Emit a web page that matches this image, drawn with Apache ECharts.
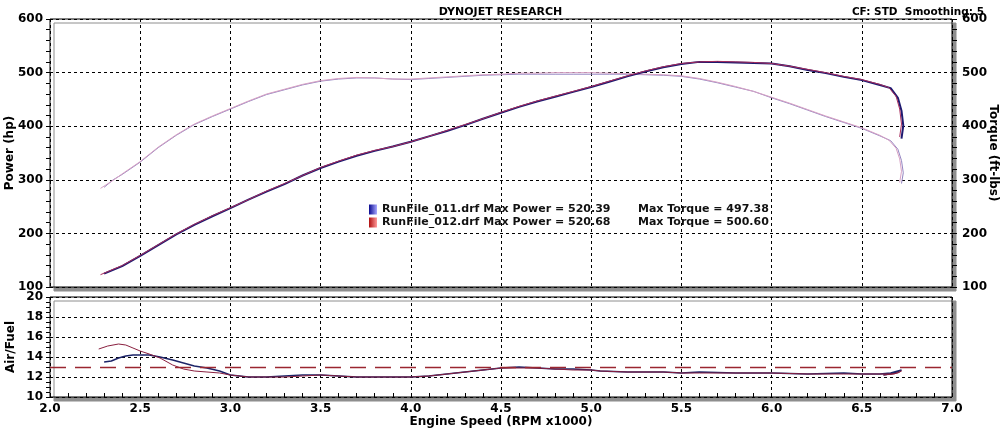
<!DOCTYPE html>
<html>
<head>
<meta charset="UTF-8">
<title>Dynojet</title>
<script src="https://cdnjs.cloudflare.com/ajax/libs/echarts/6.0.0/echarts.min.js"></script>
<style>
    html, body { margin: 0; padding: 0; background: #fff; }
    #chart { width: 1001px; height: 429px; }
</style>
</head>
<body>
<div id="chart"></div>
<script>
    // run names and summary values shown in the legend
    const runNames = ['RunFile_011.drf', 'RunFile_012.drf'];
    const maxPower = ['520.39', '520.68'];
    const maxTorque = ['497.38', '500.60'];

    // RunFile_011 (blue)
    const rpm011 = [2.30, 2.35, 2.40, 2.50, 2.60, 2.70, 2.80, 2.90, 3.00, 3.10, 3.20, 3.30, 3.40, 3.50, 3.60, 3.70, 3.80, 3.90, 4.00, 4.10, 4.20, 4.30, 4.40, 4.50, 4.60, 4.70, 4.80, 4.90, 5.00, 5.10, 5.20, 5.30, 5.40, 5.50, 5.60, 5.70, 5.80, 5.90, 6.00, 6.10, 6.20, 6.30, 6.40, 6.50, 6.60, 6.66, 6.70, 6.72, 6.73, 6.72];
    const power011 = [125, 132, 139, 158, 178, 198, 216, 232, 247, 263, 278, 292, 308, 322, 334, 345, 354, 362, 371, 381, 391, 402, 414, 425, 436, 446, 455, 464, 473, 483, 493, 502, 510, 516, 520, 520, 519, 518, 517, 512, 505, 499, 492, 486, 477, 471, 453, 429, 401, 377];
    const torque011 = [286, 300, 310, 333, 360, 383, 403, 418, 432, 446, 459, 468, 477, 484, 488, 490, 490, 488, 487, 489, 491, 493, 495, 496, 497, 497, 497, 497, 497, 497, 497, 496, 495, 493, 488, 481, 473, 465, 453, 442, 430, 418, 407, 396, 382, 373, 357, 336, 313, 293];

    // RunFile_012 (red)
    const rpm012 = [2.28, 2.35, 2.40, 2.50, 2.60, 2.70, 2.80, 2.90, 3.00, 3.10, 3.20, 3.30, 3.40, 3.50, 3.60, 3.70, 3.80, 3.90, 4.00, 4.10, 4.20, 4.30, 4.40, 4.50, 4.60, 4.70, 4.80, 4.90, 5.00, 5.10, 5.20, 5.30, 5.40, 5.50, 5.60, 5.70, 5.80, 5.90, 6.00, 6.10, 6.20, 6.30, 6.40, 6.50, 6.60, 6.65, 6.69, 6.71, 6.72, 6.71];
    const power012 = [123, 133, 140, 159, 179, 199, 217, 233, 248, 263, 279, 293, 308, 323, 335, 346, 355, 362, 371, 381, 392, 403, 414, 426, 437, 447, 456, 465, 474, 484, 494, 503, 511, 517, 520, 521, 520, 519, 517, 512, 506, 500, 493, 487, 478, 472, 456, 432, 404, 380];
    const torque012 = [284, 299, 311, 334, 361, 384, 404, 419, 433, 447, 460, 469, 478, 485, 489, 491, 490, 488, 488, 490, 492, 494, 496, 497, 499, 499, 500, 500, 500, 499, 498, 497, 496, 494, 489, 482, 474, 465, 454, 443, 431, 419, 408, 397, 383, 374, 359, 339, 316, 295];

    // air / fuel
    const afRpm011 = [2.30, 2.34, 2.38, 2.42, 2.46, 2.50, 2.55, 2.61, 2.68, 2.74, 2.80, 2.87, 2.94, 3.00, 3.10, 3.20, 3.30, 3.40, 3.50, 3.60, 3.70, 3.80, 3.90, 4.00, 4.10, 4.20, 4.30, 4.40, 4.50, 4.60, 4.70, 4.80, 4.90, 5.00, 5.05, 5.20, 5.40, 5.50, 5.60, 5.80, 6.00, 6.20, 6.40, 6.50, 6.60, 6.66, 6.70, 6.72, 6.68, 6.62];
    const af011 = [13.5, 13.6, 13.9, 14.1, 14.2, 14.2, 14.2, 14.0, 13.7, 13.4, 13.1, 12.9, 12.6, 12.2, 12.0, 12.0, 12.1, 12.2, 12.2, 12.1, 12.0, 12.0, 12.0, 12.0, 12.1, 12.3, 12.5, 12.7, 12.9, 13.0, 12.9, 12.8, 12.8, 12.7, 12.6, 12.5, 12.5, 12.4, 12.5, 12.4, 12.4, 12.3, 12.4, 12.3, 12.3, 12.4, 12.6, 12.7, 12.4, 12.2];
    const afRpm012 = [2.27, 2.32, 2.38, 2.42, 2.46, 2.50, 2.55, 2.61, 2.68, 2.74, 2.80, 2.87, 2.94, 3.00, 3.10, 3.20, 3.30, 3.40, 3.50, 3.60, 3.70, 3.80, 3.90, 4.00, 4.10, 4.20, 4.30, 4.40, 4.50, 4.60, 4.70, 4.80, 4.90, 5.00, 5.05, 5.20, 5.40, 5.50, 5.60, 5.80, 6.00, 6.20, 6.40, 6.50, 6.60, 6.66, 6.70, 6.72, 6.68, 6.62];
    const af012 = [14.8, 15.1, 15.3, 15.2, 14.9, 14.6, 14.3, 13.9, 13.2, 12.8, 12.6, 12.5, 12.4, 12.2, 12.0, 12.0, 12.0, 12.1, 12.2, 12.1, 12.0, 12.0, 12.0, 12.0, 12.1, 12.3, 12.5, 12.7, 12.9, 12.9, 12.9, 12.8, 12.7, 12.7, 12.6, 12.5, 12.5, 12.4, 12.4, 12.4, 12.4, 12.3, 12.3, 12.3, 12.3, 12.3, 12.4, 12.6, 12.3, 12.2];
    const afTarget = 13.0;

    const FONT = 'DejaVu Sans';
    const zip = (xs, ys) => xs.map((x, i) => [x, ys[i]]);

    const labelStyle = { color: '#000', fontFamily: FONT, fontWeight: 'bold', fontSize: 12 };
    const gridSplit = { show: true, lineStyle: { color: '#000', type: [3, 3], width: 1 } };
    const frame = {
        show: true, backgroundColor: '#fff', borderColor: '#000', borderWidth: 1,
        shadowColor: '#8e8e8e', shadowBlur: 0.5, shadowOffsetX: 4, shadowOffsetY: 4,
        outerBoundsMode: 'none', containLabel: false
    };

    const chart = echarts.init(document.getElementById('chart'), null, { renderer: 'canvas' });

    chart.setOption({
        animation: false,
        backgroundColor: '#fff',
        title: [
            { text: 'DYNOJET RESEARCH', left: 'center', top: 2,
              textStyle: { fontFamily: FONT, fontWeight: 'bold', fontSize: 11, color: '#000' } },
            { text: 'CF: STD  Smoothing: 5', right: 12, top: 2,
              textStyle: { fontFamily: FONT, fontWeight: 'bold', fontSize: 10.5, color: '#000' } }
        ],
        legend: {
            orient: 'vertical', left: 364, top: 199, itemGap: 2,
            itemWidth: 8, itemHeight: 10, icon: 'rect',
            data: [
                { name: runNames[0], itemStyle: { color: { type: 'linear', x: 0, y: 0, x2: 1, y2: 0,
                    colorStops: [{ offset: 0, color: '#0a0a90' }, { offset: 1, color: '#a8a8ff' }] } } },
                { name: runNames[1], itemStyle: { color: { type: 'linear', x: 0, y: 0, x2: 1, y2: 0,
                    colorStops: [{ offset: 0, color: '#b01010' }, { offset: 1, color: '#ff9a9a' }] } } }
            ],
            formatter: name => {
                const i = runNames.indexOf(name);
                return '{a|' + name + ' Max Power = ' + maxPower[i] + '}{b|Max Torque = ' + maxTorque[i] + '}';
            },
            textStyle: {
                rich: {
                    a: { fontFamily: FONT, fontWeight: 'bold', fontSize: 11, color: '#111', width: 256 },
                    b: { fontFamily: FONT, fontWeight: 'bold', fontSize: 11, color: '#111' }
                }
            }
        },
        grid: [
            Object.assign({ left: 50, right: 49, top: 19, height: 268 }, frame),
            Object.assign({ left: 50, right: 49, top: 297, height: 100 }, frame)
        ],
        xAxis: [
            { gridIndex: 0, type: 'value', min: 2, max: 7, interval: 0.5,
              axisLine: { show: false }, axisTick: { show: false }, axisLabel: { show: false },
              splitLine: gridSplit },
            { gridIndex: 1, type: 'value', min: 2, max: 7, interval: 0.5,
              name: 'Engine Speed (RPM x1000)', nameLocation: 'middle', nameGap: 19,
              nameMoveOverlap: false, nameTextStyle: labelStyle,
              axisLine: { show: false },
              axisTick: { show: true, inside: true, length: 4, lineStyle: { color: '#000' } },
              minorTick: { show: true, splitNumber: 5, length: 4, lineStyle: { color: '#000' } },
              axisLabel: Object.assign({ margin: 6, formatter: v => v.toFixed(1) }, labelStyle),
              splitLine: gridSplit }
        ],
        yAxis: [
            { gridIndex: 0, type: 'value', min: 100, max: 600, interval: 100, position: 'left',
              name: 'Power (hp)', nameLocation: 'middle', nameGap: 34, nameMoveOverlap: false,
              nameTextStyle: labelStyle,
              axisLine: { show: false },
              axisTick: { show: true, length: 4, lineStyle: { color: '#000' } },
              minorTick: { show: true, splitNumber: 5, length: 4, lineStyle: { color: '#000' } },
              axisLabel: Object.assign({ margin: 7 }, labelStyle),
              splitLine: gridSplit },
            { gridIndex: 0, type: 'value', min: 100, max: 600, interval: 100, position: 'right',
              name: 'Torque (ft-lbs)', nameLocation: 'middle', nameGap: 35, nameRotate: -90,
              nameMoveOverlap: false, nameTextStyle: labelStyle,
              axisLine: { show: false },
              axisTick: { show: true, length: 5, lineStyle: { color: '#000' } },
              minorTick: { show: true, splitNumber: 5, length: 5, lineStyle: { color: '#000' } },
              axisLabel: Object.assign({ margin: 10 }, labelStyle),
              splitLine: { show: false } },
            { gridIndex: 1, type: 'value', min: 10, max: 20, interval: 2, position: 'left',
              name: 'Air/Fuel', nameLocation: 'middle', nameGap: 33, nameMoveOverlap: false,
              nameTextStyle: labelStyle,
              axisLine: { show: false },
              axisTick: { show: true, length: 4, lineStyle: { color: '#000' } },
              minorTick: { show: true, splitNumber: 4, length: 4, lineStyle: { color: '#000' } },
              axisLabel: Object.assign({ margin: 7 }, labelStyle),
              splitLine: gridSplit }
        ],
        series: [
            { name: runNames[0], type: 'line', xAxisIndex: 0, yAxisIndex: 1, data: zip(rpm011, torque011),
              showSymbol: false, lineStyle: { color: '#9486c2', width: 1 }, itemStyle: { color: '#9486c2' } },
            { name: runNames[1], type: 'line', xAxisIndex: 0, yAxisIndex: 1, data: zip(rpm012, torque012),
              showSymbol: false, lineStyle: { color: '#d8a2c4', width: 1 }, itemStyle: { color: '#d8a2c4' } },
            { name: runNames[0], type: 'line', xAxisIndex: 0, yAxisIndex: 0, data: zip(rpm011, power011),
              showSymbol: false, lineStyle: { color: '#1e1a70', width: 2 }, itemStyle: { color: '#1e1a70' } },
            { name: runNames[1], type: 'line', xAxisIndex: 0, yAxisIndex: 0, data: zip(rpm012, power012),
              showSymbol: false, lineStyle: { color: '#a82c5c', width: 1 }, itemStyle: { color: '#a82c5c' } },
            { name: runNames[0], type: 'line', xAxisIndex: 1, yAxisIndex: 2, data: zip(afRpm011, af011),
              showSymbol: false, z: 3, lineStyle: { color: '#1c2468', width: 1.4 }, itemStyle: { color: '#1c2468' },
              markLine: { silent: true, symbol: 'none', label: { show: false },
                          lineStyle: { color: '#9a2630', width: 1.3, type: [16, 9] },
                          data: [{ yAxis: afTarget }] } },
            { name: runNames[1], type: 'line', xAxisIndex: 1, yAxisIndex: 2, data: zip(afRpm012, af012),
              showSymbol: false, z: 3, lineStyle: { color: '#8a2040', width: 1 }, itemStyle: { color: '#8a2040' } }
        ]
    });
</script>
</body>
</html>
